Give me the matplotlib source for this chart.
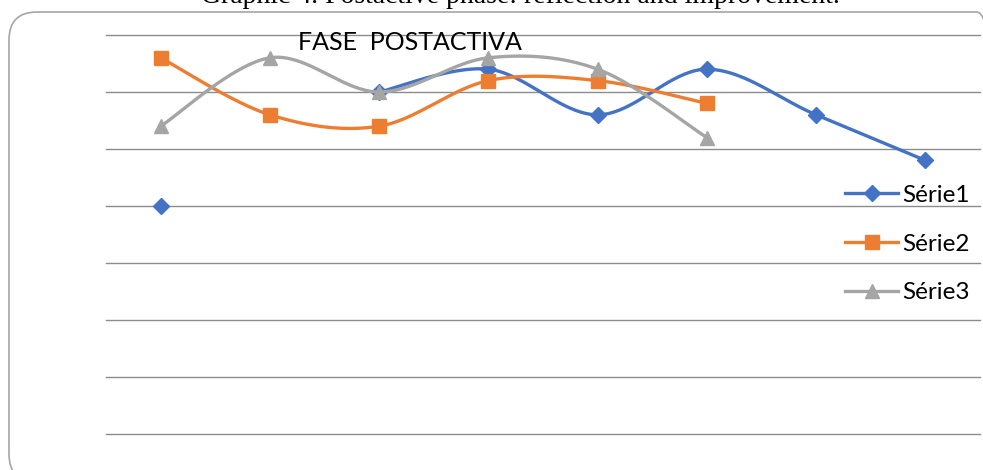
import numpy as np
import matplotlib
matplotlib.use("Agg")
import matplotlib.pyplot as plt
from matplotlib.lines import Line2D
from matplotlib.patches import FancyBboxPatch

categories = [1, 2, 3, 4, 5, 6, 7, 8]
serie1 = [4.0, None, 6.0, 6.4, 5.6, 6.4, 5.6, 4.8]
serie2 = [6.6, 5.6, 5.4, 6.2, 6.2, 5.8]
serie3 = [5.4, 6.6, 6.0, 6.6, 6.4, 5.2]
series_names = ["Série1", "Série2", "Série3"]
gridvals = [0, 1, 2, 3, 4, 5, 6, 7]
chart_title = "FASE  POSTACTIVA"
caption = "Graphic 4. Postactive phase: reflection and improvement."

colors = ["#4472C4", "#ED7D31", "#A5A5A5"]
markers = ["D", "s", "^"]
msizes = [8, 10, 10]

W, H = 983, 470
fig = plt.figure(figsize=(W / 100, H / 100), dpi=100)

# rounded border (extends past the right and bottom edges)
bx0, by_top, bx1, by_bot = 9, 12, 1005, 482
box = FancyBboxPatch((bx0 / W, 1 - by_bot / H), (bx1 - bx0) / W, (by_bot - by_top) / H,
                     boxstyle="round,pad=0,rounding_size=%f" % (28 / W),
                     transform=fig.transFigure, fill=False,
                     edgecolor="#A6A6A6", linewidth=1.2, mutation_aspect=W / H)
fig.patches.append(box)

ax = fig.add_axes([106 / W, (H - 434) / H, (980 - 106) / W, (434 - 35) / H])
ax.set_xlim(0.5, 8.5)
ax.set_ylim(0, 7)
for s in ax.spines.values():
    s.set_visible(False)
ax.set_xticks([])
ax.set_yticks([])
for g in gridvals:
    ax.axhline(g, color="#8C8C8C", linewidth=1.0, clip_on=False, zorder=1)


def smooth(xs, ys, n=40):
    pts = np.column_stack([xs, ys]).astype(float)
    m = len(pts)
    out = [pts[0]]
    for i in range(m - 1):
        p0 = pts[i - 1] if i > 0 else pts[i]
        p1 = pts[i]
        p2 = pts[i + 1]
        p3 = pts[i + 2] if i + 2 < m else pts[i + 1]
        c1 = p1 + (p2 - p0) / 6.0
        c2 = p2 - (p3 - p1) / 6.0
        t = np.linspace(0, 1, n)[1:, None]
        b = ((1 - t) ** 3) * p1 + 3 * ((1 - t) ** 2) * t * c1 + 3 * (1 - t) * t ** 2 * c2 + t ** 3 * p2
        out.extend(b)
    out = np.array(out)
    return out[:, 0], out[:, 1]


for k, vals in enumerate([serie1, serie2, serie3]):
    xs = categories[:len(vals)]
    runs, cur = [], []
    for x, v in zip(xs, vals):
        if v is None:
            if cur:
                runs.append(cur)
            cur = []
        else:
            cur.append((x, v))
    if cur:
        runs.append(cur)
    for run in runs:
        rx = [p[0] for p in run]
        ry = [p[1] for p in run]
        if len(run) > 1:
            sx, sy = smooth(rx, ry)
            ax.plot(sx, sy, color=colors[k], linewidth=2.4, solid_capstyle="round", zorder=2 + k)
        ax.plot(rx, ry, linestyle="none", marker=markers[k], markersize=msizes[k],
                color=colors[k], zorder=2 + k)

handles = [Line2D([0], [0], color=colors[k], linewidth=2.4, marker=markers[k],
                  markersize=msizes[k]) for k in range(3)]
fig.legend(handles, series_names, loc="center left",
           bbox_to_anchor=(845 / W, 1 - 244 / H), frameon=False,
           prop={"family": "Lato", "size": 17.5}, handlelength=2.2,
           handletextpad=0.15, labelspacing=1.15, borderpad=0, borderaxespad=0)

fig.text(410 / W, 1 - 50 / H, chart_title, ha="center", va="baseline",
         family="Lato", fontsize=18, color="#000000")
fig.text(520 / W, 1 - 3 / H, caption, ha="center", va="baseline",
         family="Liberation Serif", fontsize=20, color="#000000")

fig.savefig("out.png", dpi=100)
